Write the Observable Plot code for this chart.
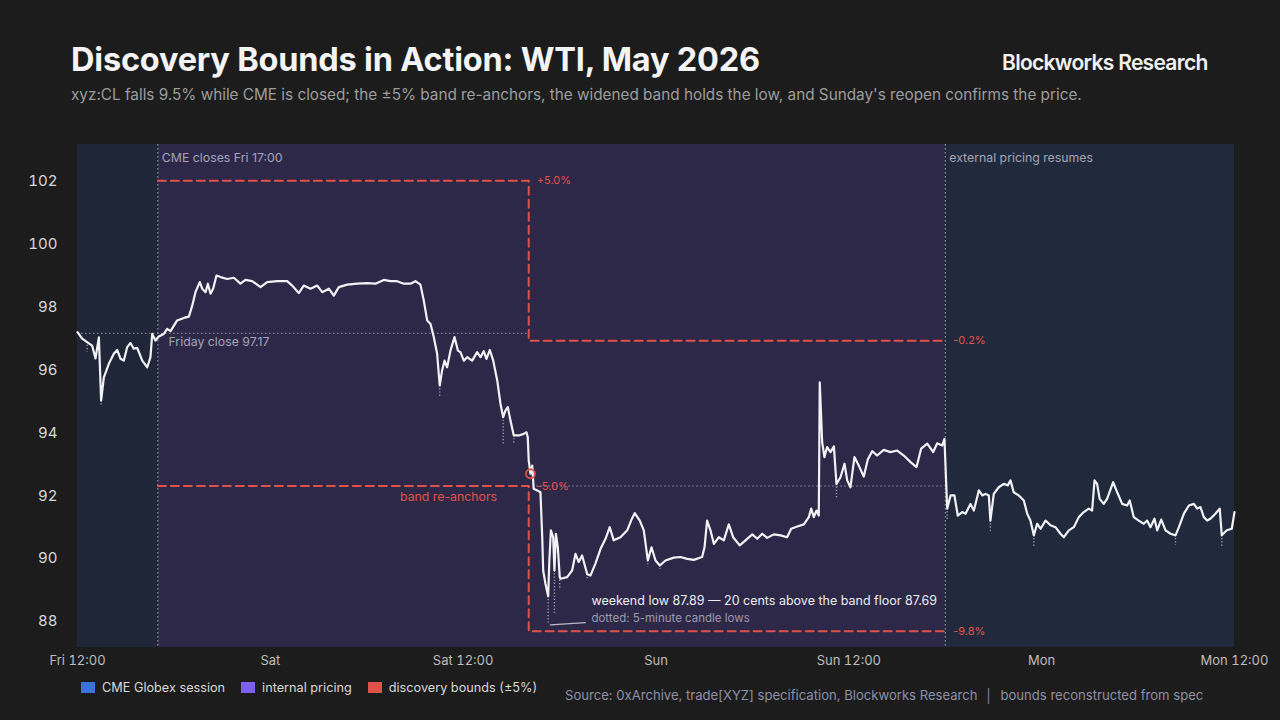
<!DOCTYPE html>
<html>
<head>
<meta charset="utf-8">
<script src="https://cdn.jsdelivr.net/npm/d3@7"></script>
<script src="https://cdn.jsdelivr.net/npm/@observablehq/plot@0.6"></script>
<style>
  html, body { margin: 0; padding: 0; background: #1c1c1c; }
  body { width: 1280px; height: 720px; position: relative; overflow: hidden; font-family: Inter, "Noto Sans", sans-serif; }
  .abs { position: absolute; white-space: nowrap; }
  #title { left: 71px; top: 40px; font-size: 32.5px; font-weight: 700; color: #f4f4f4; letter-spacing: -0.2px; }
  #subtitle { left: 71px; top: 85px; font-size: 15.3px; color: #9c9c9c; }
  #brand { left: 1002px; top: 50px; font-size: 21px; font-weight: 600; color: #f2f2f2; letter-spacing: -0.7px; }
  #chart { left: 0; top: 130px; }
  #legend { left: 81px; top: 680px; font-size: 12.7px; color: #d8d8d8; display: flex; align-items: center; }
  #legend span.sw { display: inline-block; width: 14px; height: 11px; margin-right: 7px; }
  #legend span.it { margin-right: 16px; }
  #source { left: 565px; top: 687px; font-size: 13.1px; color: #8e90a6; }
</style>
</head>
<body>
<div id="title" class="abs">Discovery Bounds in Action: WTI, May 2026</div>
<div id="subtitle" class="abs">xyz:CL falls 9.5% while CME is closed; the ±5% band re-anchors, the widened band holds the low, and Sunday's reopen confirms the price.</div>
<div id="brand" class="abs">Blockworks Research</div>
<div id="chart" class="abs"></div>
<div id="legend" class="abs"></div>
<div id="source" class="abs">Source: 0xArchive, trade[XYZ] specification, Blockworks Research &nbsp;│&nbsp; bounds reconstructed from spec</div>
<script>
// ---------- data (hours after Fri 12:00 ET) ----------
const priceHours = [0,0.29,0.60,0.91,1.12,1.33,1.47,1.64,1.95,2.26,2.47,2.68,2.88,3.09,3.30,3.50,3.71,4.03,4.34,4.54,4.65,4.85,5.06,5.37,5.58,5.79,6.20,6.62,6.93,7.14,7.34,7.61,7.76,7.97,8.11,8.28,8.44,8.65,8.90,9.32,9.73,10.14,10.45,10.87,11.39,11.80,12.43,13.05,13.36,13.77,14.08,14.50,14.92,15.23,15.64,15.95,16.26,16.78,17.40,18.03,18.54,19.06,19.48,19.89,20.31,20.72,21.03,21.34,21.55,21.76,21.97,22.17,22.38,22.54,22.69,22.84,23.00,23.21,23.46,23.67,23.83,24.04,24.25,24.56,24.87,25.08,25.28,25.45,25.66,25.87,26.12,26.32,26.49,26.63,26.78,26.94,27.15,27.46,27.77,27.94,28.02,28.08,28.19,28.30,28.39,28.61,28.81,28.92,28.98,29.12,29.29,29.36,29.46,29.60,29.68,29.77,29.89,30.01,30.06,30.47,30.78,30.99,31.19,31.40,31.72,31.92,32.23,32.55,32.86,33.12,33.37,33.79,34.21,34.45,34.68,34.99,35.24,35.49,35.72,35.97,36.24,36.59,37.11,37.52,37.94,38.35,38.87,39.02,39.18,39.39,39.60,39.91,40.22,40.53,40.80,41.21,41.57,41.99,42.30,42.61,42.92,43.33,43.75,44.16,44.41,44.79,45.20,45.51,45.66,45.82,45.99,46.13,46.19,46.34,46.48,46.65,46.86,47.07,47.23,47.48,47.73,47.90,48.10,48.35,48.62,48.93,49.18,49.45,49.76,50.17,50.59,51.01,51.42,51.84,52.21,52.50,52.88,53.25,53.50,53.81,53.95,54.12,54.33,54.57,54.78,55.06,55.26,55.57,55.78,56.09,56.31,56.50,56.71,56.81,57.02,57.33,57.64,57.89,58.06,58.26,58.58,58.89,59.10,59.30,59.51,59.72,59.93,60.24,60.55,60.86,61.17,61.38,61.69,62.00,62.31,62.62,62.93,63.14,63.29,63.45,63.61,63.86,64.07,64.45,64.70,65.01,65.32,65.48,65.73,66.04,66.35,66.56,66.77,67.02,67.19,67.44,67.71,68.02,68.33,68.54,68.85,69.16,69.47,69.68,69.88,70.09,70.30,70.50,70.81,71.08,71.21,71.52,71.83,72.00];
const priceValues = [97.21,97.00,96.89,96.78,96.37,97.04,95.03,95.77,96.20,96.52,96.64,96.36,96.30,96.73,96.86,96.68,96.71,96.30,96.09,96.41,97.15,96.94,97.07,97.15,97.31,97.24,97.58,97.66,97.70,98.05,98.48,98.80,98.59,98.48,98.75,98.43,98.59,99.01,98.96,98.90,98.94,98.75,98.87,98.83,98.64,98.80,98.83,98.83,98.69,98.45,98.69,98.59,98.69,98.48,98.59,98.37,98.64,98.72,98.75,98.77,98.75,98.87,98.83,98.83,98.75,98.75,98.83,98.72,98.21,97.58,97.47,97.05,96.52,95.51,95.99,96.30,96.09,96.62,97.05,96.62,96.57,96.30,96.41,96.30,96.57,96.41,96.60,96.36,96.64,96.30,95.67,94.93,94.50,94.71,94.82,94.40,93.92,93.92,93.97,94.02,93.86,93.12,92.70,92.96,92.22,92.17,92.11,90.68,89.62,89.20,88.80,89.90,90.90,90.68,89.62,90.79,90.36,89.41,89.36,89.41,89.62,90.15,89.89,90.10,89.50,89.46,89.84,90.31,90.63,91.00,90.58,90.68,90.90,91.21,91.45,91.21,90.90,89.94,90.36,89.94,89.78,89.94,90.03,90.05,89.99,89.96,90.05,90.36,91.21,90.90,90.47,90.68,90.58,91.09,90.68,90.42,90.58,90.77,90.63,90.79,90.66,90.77,90.74,90.68,90.95,91.02,91.09,91.32,91.59,91.32,91.53,91.37,95.61,93.71,93.23,93.55,93.39,93.57,92.38,92.59,93.02,92.49,92.27,93.23,92.96,92.61,93.15,93.42,93.28,93.46,93.39,93.44,93.28,93.07,92.91,93.50,93.66,93.39,93.67,93.60,93.81,91.59,92.01,92.01,91.37,91.48,91.43,91.74,91.53,92.17,92.01,92.06,92.01,91.21,92.06,92.27,92.38,92.33,92.49,92.11,92.01,91.85,91.43,91.21,90.74,91.11,90.95,91.21,91.06,91.00,90.79,90.68,90.90,91.00,91.32,91.48,91.59,91.53,92.49,92.38,91.90,91.74,91.90,92.43,92.11,91.74,91.69,91.85,91.32,91.21,91.11,91.21,91.00,91.27,90.90,91.24,90.90,90.79,90.74,91.00,91.43,91.69,91.74,91.59,91.64,91.32,91.21,91.27,91.43,91.59,90.74,90.90,90.95,91.48];

// 5-minute candle lows (selected dips)
const lowHours  = [0.60, 1.47, 22.54, 26.49, 27.15, 29.29, 29.68, 30.01, 31.72, 35.49, 36.24, 47.23, 54.12, 56.81, 59.51, 68.33, 71.21];
const lowClose  = [96.89, 95.03, 95.51, 94.50, 93.92, 88.80, 89.62, 89.41, 89.50, 89.94, 89.78, 92.38, 91.59, 91.21, 90.74, 90.74, 90.74];
const lowValues = [96.57, 94.87, 95.14, 93.60, 93.66, 87.89, 88.26, 88.99, 89.30, 89.73, 89.65, 91.90, 91.20, 90.84, 90.36, 90.42, 90.36];

// sessions
const sessionNames  = ["CME Globex session", "internal pricing", "CME Globex session"];
const sessionStart  = [0, 5, 54];
const sessionEnd    = [5, 54, 72];
const sessionFills  = ["#1f2638", "#2d2848", "#202a3c"];

// discovery bounds
const fridayClose = 97.17;
const reanchorHour = 28.08;
const bandHours = [5, 28.08, 28.08, 54];
const upperBand = [102.03, 102.03, 96.93, 96.93];
const lowerBand = [92.31, 92.31, 87.69, 87.69];
const bandLabels = ["+5.0%", "-0.2%", "-5.0%", "-9.8%"];
const bandLabelHours = [28.08, 54, 28.08, 54];
const bandLabelValues = [102.03, 96.93, 92.31, 87.69];

// event markers
const eventHours = [5, 54];
const eventLabels = ["CME closes Fri 17:00", "external pricing resumes"];

// annotations
const reanchorPoint = {h: 28.19, p: 92.70};
const weekendLowText = "weekend low 87.89 — 20 cents above the band floor 87.69";
const lowsNoteText = "dotted: 5-minute candle lows";
const noteHour = 31.98;
const noteValues = [88.64, 88.10];
const leaderHours = [29.43, 31.60];
const leaderValues = [87.89, 87.96];

// axes
const tickHours = [0, 12, 24, 36, 48, 60, 72];
const tickLabels = ["Fri 12:00", "Sat", "Sat 12:00", "Sun", "Sun 12:00", "Mon", "Mon 12:00"];
const yTicks = [88, 90, 92, 94, 96, 98, 100, 102];
const yDomain = [87.17, 103.18];

// legend
const legendNames = ["CME Globex session", "internal pricing", "discovery bounds (±5%)"];
const legendColors = ["#3a73d9", "#7b61ef", "#e0514a"];

// ---------- build ----------
const base = new Date(2026, 4, 15, 12, 0, 0).getTime();
const T = h => new Date(base + h * 3600e3);
const fmtX = d => tickLabels[tickHours.indexOf(Math.round((d - base) / 3600e3))];

const price = priceHours.map((h, i) => ({t: T(h), p: priceValues[i]}));
const lows = lowHours.map((h, i) => ({t: T(h), c: lowClose[i], l: lowValues[i]}));
const sessions = sessionNames.map((n, i) => ({n, a: T(sessionStart[i]), b: T(sessionEnd[i]), f: sessionFills[i]}));
const upper = bandHours.map((h, i) => ({t: T(h), v: upperBand[i]}));
const lower = bandHours.map((h, i) => ({t: T(h), v: lowerBand[i]}));
const bandText = bandLabels.map((s, i) => ({s, t: T(bandLabelHours[i]), v: bandLabelValues[i]}));
const events = eventHours.map((h, i) => ({t: T(h), s: eventLabels[i]}));
const leader = leaderHours.map((h, i) => ({t: T(h), v: leaderValues[i]}));

const red = "#e0514a";
const font = "Inter, 'Noto Sans', sans-serif";

const chart = Plot.plot({
  width: 1280,
  height: 545,
  marginTop: 14,
  marginBottom: 28,
  marginLeft: 77,
  marginRight: 46,
  style: {background: "transparent", fontFamily: font, color: "#d8d8d8", overflow: "visible"},
  x: {type: "time", domain: [T(0), T(72)], label: null},
  y: {domain: yDomain, label: null},
  marks: [
    Plot.rect(sessions, {x1: "a", x2: "b", fill: "f"}),
    Plot.ruleX(events, {x: "t", stroke: "#a9a9bb", strokeDasharray: "1.5,2.5", strokeWidth: 1}),
    Plot.ruleY([fridayClose], {x1: T(0), x2: T(reanchorHour), stroke: "#a9a9bb", strokeDasharray: "1.5,2.5", strokeWidth: 1, strokeOpacity: 0.9}),
    Plot.ruleY([lowerBand[0]], {x1: T(reanchorHour), x2: T(54), stroke: "#a9a9bb", strokeDasharray: "1.5,2.5", strokeWidth: 1, strokeOpacity: 0.9}),
    Plot.line(upper, {x: "t", y: "v", stroke: red, strokeWidth: 2, strokeDasharray: "8,5"}),
    Plot.line(lower, {x: "t", y: "v", stroke: red, strokeWidth: 2, strokeDasharray: "8,5"}),
    Plot.ruleX(lows, {x: "t", y1: "c", y2: "l", stroke: "#c9c9d6", strokeDasharray: "1.2,2", strokeWidth: 1.3, strokeOpacity: 0.8}),
    Plot.line(price, {x: "t", y: "p", stroke: "#f2f2f5", strokeWidth: 2.2, strokeLinejoin: "round"}),
    Plot.dot([reanchorPoint], {x: d => T(d.h), y: "p", r: 4.5, stroke: red, strokeWidth: 1.8, fill: "none"}),
    Plot.line(leader, {x: "t", y: "v", stroke: "#b9b9c6", strokeWidth: 1.2}),
    Plot.text(events, {x: "t", frameAnchor: "top", dy: 9, dx: 4, text: "s", textAnchor: "start", fill: "#a4a4b6", fontSize: 12.3}),
    Plot.text([fridayClose], {x: T(5.66), y: d => d, dy: 9, text: d => `Friday close ${d}`, textAnchor: "start", fill: "#a4a4b6", fontSize: 12.3}),
    Plot.text(bandText, {x: "t", y: "v", text: "s", dx: 8, textAnchor: "start", fill: red, fontSize: 11}),
    Plot.text(["band re-anchors"], {x: T(23.09), y: lowerBand[0], dy: 11, text: d => d, textAnchor: "middle", fill: red, fontSize: 12.3}),
    Plot.text([weekendLowText], {x: T(noteHour), y: noteValues[0], text: d => d, textAnchor: "start", fill: "#ececf0", fontSize: 12.5}),
    Plot.text([lowsNoteText], {x: T(noteHour), y: noteValues[1], text: d => d, textAnchor: "start", fill: "#9a9aaa", fontSize: 11.5}),
    Plot.axisX({ticks: tickHours.map(T), tickFormat: fmtX, tickSize: 0, tickPadding: 8, fontSize: 13, fill: "#bdbdbd", label: null}),
    Plot.axisY({ticks: yTicks, tickSize: 0, tickPadding: 20, fontSize: 15, fill: "#d8d8d8", label: null, tickFormat: d => String(d)})
  ]
});
document.getElementById("chart").appendChild(chart);

// legend
const lg = document.getElementById("legend");
legendNames.forEach((n, i) => {
  const sw = document.createElement("span");
  sw.className = "sw";
  sw.style.background = legendColors[i];
  const tx = document.createElement("span");
  tx.className = "it";
  tx.textContent = n;
  lg.appendChild(sw);
  lg.appendChild(tx);
});
</script>
</body>
</html>
